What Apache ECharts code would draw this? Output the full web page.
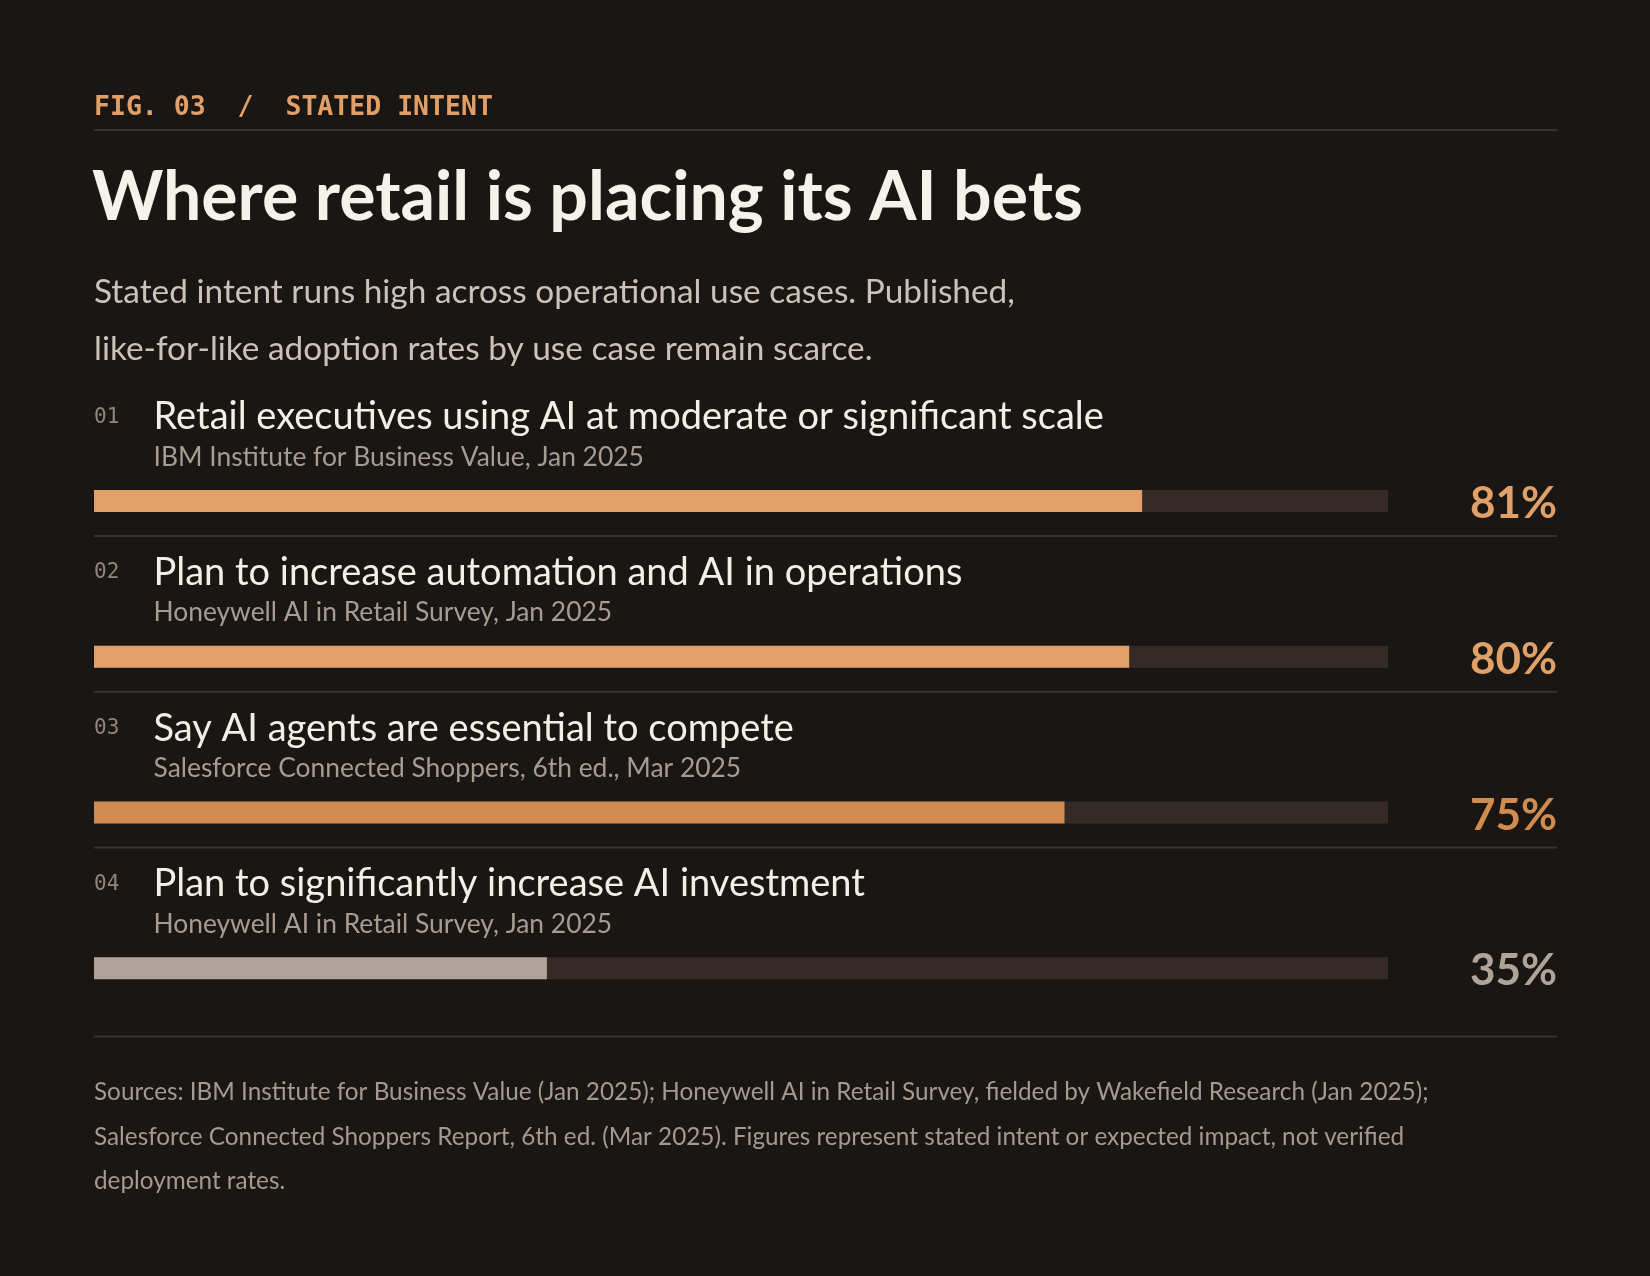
<!DOCTYPE html>
<html>
<head>
<meta charset="utf-8">
<script src="https://cdn.jsdelivr.net/npm/echarts@6/dist/echarts.min.js"></script>
<style>
  html, body { margin: 0; padding: 0; background: #1a1613; }
  #chart { width: 1650px; height: 1276px; }
</style>
</head>
<body>
<div id="chart"></div>
<script>
const rowNumbers = ["01", "02", "03", "04"];
const categories = [
  "Retail executives using AI at moderate or significant scale",
  "Plan to increase automation and AI in operations",
  "Say AI agents are essential to compete",
  "Plan to significantly increase AI investment"
];
const sources = [
  "IBM Institute for Business Value, Jan 2025",
  "Honeywell AI in Retail Survey, Jan 2025",
  "Salesforce Connected Shoppers, 6th ed., Mar 2025",
  "Honeywell AI in Retail Survey, Jan 2025"
];
const values = [81, 80, 75, 35];
const barColors = ["#e0a068", "#e0a068", "#d08c4e", "#b0a498"];

const subtitleLines = [
  "Stated intent runs high across operational use cases. Published,",
  "like-for-like adoption rates by use case remain scarce."
];
const footerLines = [
  "Sources: IBM Institute for Business Value (Jan 2025); Honeywell AI in Retail Survey, fielded by Wakefield Research (Jan 2025);",
  "Salesforce Connected Shoppers Report, 6th ed. (Mar 2025). Figures represent stated intent or expected impact, not verified",
  "deployment rates."
];

const SANS = "Lato, 'Noto Sans', sans-serif";
const MONO = "'DejaVu Sans Mono', 'Liberation Mono', monospace";
const LEFT = 94, RIGHT = 1557;
const RULE = "#3a332d";

const chart = echarts.init(document.getElementById("chart"));

chart.setOption({
  backgroundColor: "#1a1613",
  animation: false,
  grid: { left: LEFT, width: 1294, top: 423.2, height: 622.8 },
  xAxis: { type: "value", min: 0, max: 100, show: false },
  yAxis: { type: "category", data: categories, inverse: true, show: false },
  series: [{
    type: "bar",
    silent: true,
    barWidth: 22,
    showBackground: true,
    backgroundStyle: { color: "#342b26" },
    data: values.map((v, i) => ({ value: v, itemStyle: { color: barColors[i] } }))
  }]
});

function text(x, y, str, font, fill, align) {
  return {
    type: "text", silent: true,
    style: { x, y, text: str, font, fill, textAlign: align || "left", textVerticalAlign: "middle" }
  };
}
function hline(y, color) {
  return {
    type: "line", silent: true,
    shape: { x1: LEFT, y1: y, x2: RIGHT, y2: y },
    style: { stroke: color, lineWidth: 2 }
  };
}

const g = [
  text(LEFT, 108, "FIG. 03  /  STATED INTENT", "bold 26.5px " + MONO, "#e0a068"),
  hline(130, RULE),
  text(LEFT - 2, 198, "Where retail is placing its AI bets", "bold 68px " + SANS, "#f5f1eb"),
  text(LEFT, 292, subtitleLines[0], "33.4px " + SANS, "#cbc2b8"),
  text(LEFT, 349, subtitleLines[1], "33.4px " + SANS, "#cbc2b8")
];

categories.forEach((c, i) => {
  const cy = chart.convertToPixel({ yAxisIndex: 0 }, c);
  g.push(text(LEFT, cy - 84, rowNumbers[i], "21px " + MONO, "#8f867c"));
  g.push(text(153.5, cy - 84, c, "38px " + SANS, "#f3efe8"));
  g.push(text(153.5, cy - 44, sources[i], "26.4px " + SANS, "#a69c92"));
  g.push(text(RIGHT, cy + 3, values[i] + "%", "bold 44px " + SANS, barColors[i], "right"));
  if (i < categories.length - 1) g.push(hline(cy + 35, RULE));
});

g.push(hline(1036.5, RULE));
footerLines.forEach((l, i) => {
  g.push(text(LEFT, 1092.5 + i * 44.5, l, "24.3px " + SANS, "#a39a90"));
});

chart.setOption({ graphic: g });
</script>
</body>
</html>
